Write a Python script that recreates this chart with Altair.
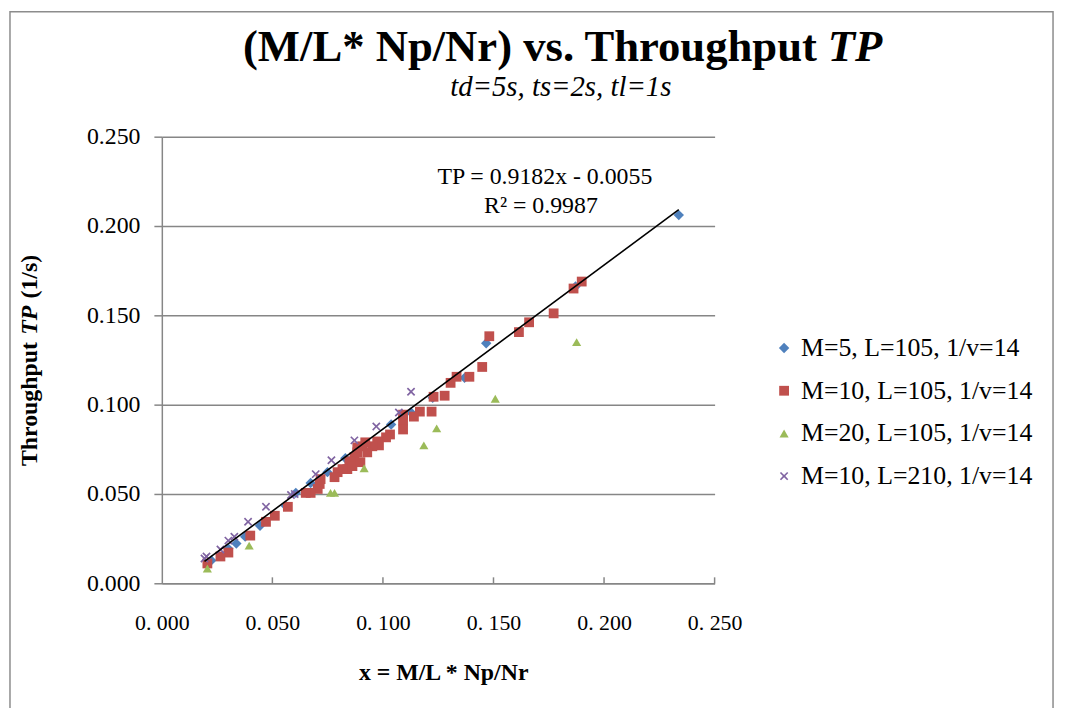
import altair as alt
import pandas as pd

# ---- data ----
series_names = ["M=5, L=105, 1/v=14", "M=10, L=105, 1/v=14",
                "M=20, L=105, 1/v=14", "M=10, L=210, 1/v=14"]

blue_x = [0.2338, 0.1871, 0.1467, 0.1369, 0.1225, 0.1127, 0.1037, 0.0830, 0.0749,
          0.0673, 0.0606, 0.0561, 0.0444, 0.0377, 0.0337, 0.0301, 0.0224]
blue_y = [0.2061, 0.1661, 0.1344, 0.1150, 0.1039, 0.0956, 0.0889, 0.0700, 0.0622,
          0.0561, 0.0506, 0.0433, 0.0322, 0.0261, 0.0222, 0.0194, 0.0128]

red_x = [0.1899, 0.1862, 0.1772, 0.1661, 0.1615, 0.1481, 0.1449, 0.1391, 0.1333, 0.1306,
         0.1279, 0.1229, 0.1220, 0.1167, 0.1140, 0.1091, 0.1091, 0.1091, 0.1032, 0.1014,
         0.0982, 0.0974, 0.0952, 0.0920, 0.0906, 0.0929, 0.0884, 0.0871, 0.0848, 0.0839,
         0.0817, 0.0862, 0.0795, 0.0781, 0.0718, 0.0714, 0.0705, 0.0673, 0.0651, 0.0570,
         0.0511, 0.0471, 0.0400, 0.0301, 0.0265, 0.0206, 0.0884, 0.0898]
red_y = [0.1689, 0.1650, 0.1511, 0.1461, 0.1406, 0.1383, 0.1211, 0.1156, 0.1156, 0.1122,
         0.1050, 0.1044, 0.0961, 0.0961, 0.0933, 0.0944, 0.0911, 0.0861, 0.0833, 0.0817,
         0.0772, 0.0794, 0.0767, 0.0789, 0.0767, 0.0733, 0.0733, 0.0706, 0.0683, 0.0639,
         0.0639, 0.0656, 0.0622, 0.0594, 0.0583, 0.0556, 0.0528, 0.0506, 0.0506, 0.0428,
         0.0378, 0.0344, 0.0267, 0.0172, 0.0150, 0.0111, 0.0761, 0.0678]

green_x = [0.1876, 0.1508, 0.1243, 0.1185, 0.0915, 0.0763, 0.0781, 0.0395, 0.0206]
green_y = [0.1350, 0.1033, 0.0867, 0.0772, 0.0644, 0.0506, 0.0506, 0.0211, 0.0083]

purple_x = [0.1127, 0.1072, 0.0970, 0.0871, 0.0767, 0.0696, 0.0584, 0.0601, 0.0471,
            0.0390, 0.0328, 0.0301, 0.0265, 0.0202, 0.0193]
purple_y = [0.1072, 0.0956, 0.0878, 0.0800, 0.0689, 0.0611, 0.0494, 0.0500, 0.0428,
            0.0344, 0.0261, 0.0239, 0.0189, 0.0150, 0.0139]

trend_slope = 0.9182
trend_intercept = -0.0055
x_ticks = [0.0, 0.05, 0.10, 0.15, 0.20, 0.25]
y_ticks = [0.0, 0.05, 0.10, 0.15, 0.20, 0.25]

colors = ["#4F81BD", "#C0504D", "#9BBB59", "#8064A2"]
X_PATH = ("M-1,-0.72L-0.72,-1L0,-0.28L0.72,-1L1,-0.72L0.28,0L1,0.72L0.72,1"
          "L0,0.28L-0.72,1L-1,0.72L-0.28,0Z")
shapes = ["diamond", "square", "triangle-up", X_PATH]
sizes = [110, 72, 65, 85]

# ---- tables ----
rows = []
for name, xs, ys in zip(series_names, [blue_x, red_x, green_x, purple_x],
                        [blue_y, red_y, green_y, purple_y]):
    for a, b in zip(xs, ys):
        rows.append({"x": a, "y": b, "series": name})
df = pd.DataFrame(rows)

all_x = blue_x + red_x + green_x + purple_x
x_lo, x_hi = min(all_x), max(all_x)
trend = pd.DataFrame({"x": [x_lo, x_hi],
                      "y": [trend_slope * x_lo + trend_intercept,
                            trend_slope * x_hi + trend_intercept]})
tick_df = pd.DataFrame({"x": x_ticks[1:]})

FONT = "Liberation Serif"
GRAY = "#868686"
W, H = 557, 450

xscale = alt.Scale(domain=[0, 0.25], nice=False, zero=False)
yscale = alt.Scale(domain=[0, 0.25], nice=False, zero=False)

legend = alt.Legend(title=None, orient="none", legendX=614, legendY=200,
                    labelFont=FONT, labelFontSize=26, labelColor="#000000",
                    labelLimit=400, symbolSize=45, rowPadding=17, labelOffset=4,
                    padding=0, symbolStrokeWidth=0)

points = alt.Chart(df).mark_point(opacity=1, filled=True).encode(
    x=alt.X("x:Q", scale=xscale,
            axis=alt.Axis(values=x_ticks, title=None, grid=False, ticks=False,
                          labelFlush=False,
                          labelExpr="replace(format(datum.value, '.3f'), '.', '. ')",
                          labelFont=FONT, labelFontSize=22, labelColor="#000000",
                          labelPadding=30, domainColor=GRAY, domainWidth=1.5)),
    y=alt.Y("y:Q", scale=yscale,
            axis=alt.Axis(values=y_ticks, title=None, format=".3f", grid=True,
                          gridColor=GRAY, gridWidth=1.5, tickColor=GRAY, tickSize=8,
                          tickWidth=1.5, domainColor=GRAY, domainWidth=1.5,
                          labelFont=FONT, labelFontSize=24, labelColor="#000000",
                          labelPadding=14)),
    color=alt.Color("series:N", scale=alt.Scale(domain=series_names, range=colors),
                    legend=legend),
    shape=alt.Shape("series:N", scale=alt.Scale(domain=series_names, range=shapes),
                    legend=legend),
    size=alt.Size("series:N", scale=alt.Scale(domain=series_names, range=sizes), legend=None),
)

# small inward tick marks on the x axis
xticks_in = alt.Chart(tick_df).mark_rule(color=GRAY, strokeWidth=1.5).encode(
    x=alt.X("x:Q", scale=xscale), y=alt.value(H - 6), y2=alt.value(H))

line = alt.Chart(trend).mark_line(color="#000000", strokeWidth=1.6).encode(
    x=alt.X("x:Q", scale=xscale), y=alt.Y("y:Q", scale=yscale))

one = pd.DataFrame({"k": [0]})

def txt(text, x, y, size, weight="normal", style="normal", align="center",
        baseline="middle", angle=0):
    return alt.Chart(one).mark_text(
        font=FONT, fontSize=size, fontWeight=weight, fontStyle=style, align=align,
        baseline=baseline, angle=angle, color="#000000"
    ).encode(x=alt.value(x), y=alt.value(y), text=alt.value(text))

texts = [
    txt("(M/L* Np/Nr) vs. Throughput", 660, -76, 45, weight="bold", align="right",
        baseline="alphabetic"),
    txt("TP", 671, -76, 45, weight="bold", style="italic", align="left",
        baseline="alphabetic"),
    txt("td=5s, ts=2s, tl=1s", 402, -41, 29, style="italic", baseline="alphabetic"),
    txt("TP = 0.9182x - 0.0055", 386, 41, 24),
    txt("R² = 0.9987", 382, 70, 24),
    txt("x = M/L * Np/Nr", 284, 540, 24, weight="bold"),
    txt("Throughput", -133, 207, 24, weight="bold", align="right", angle=270),
    txt("TP", -133, 185, 24, weight="bold", style="italic", angle=270),
    txt("(1/s)", -133, 163, 24, weight="bold", align="left", angle=270),
]

frame = alt.Chart(one).mark_rect(fillOpacity=0, stroke="#8C8C8C", strokeWidth=1.5).encode(
    x=alt.value(-153), x2=alt.value(898), y=alt.value(-126), y2=alt.value(620))

chart = alt.layer(frame, xticks_in, points, line, *texts).properties(
    width=W, height=H,
    autosize=alt.AutoSizeParams(type="none"),
    padding={"left": 155, "top": 127, "right": 345, "bottom": 123},
).configure_view(strokeWidth=0)

chart.save("out.html", embed_options={"renderer": "svg", "actions": False})
